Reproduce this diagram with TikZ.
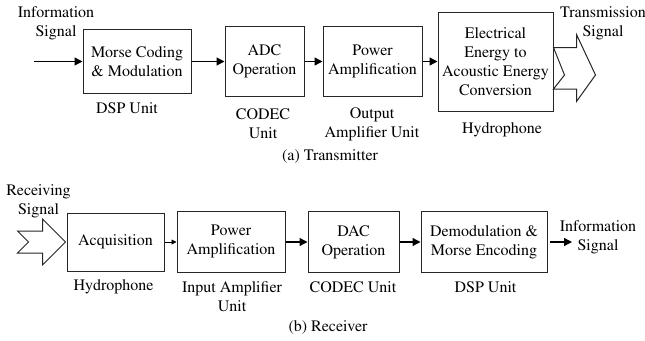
\documentclass[tikz,border=0pt]{standalone}
\usepackage[T1]{fontenc}
\usepackage{mathptmx}
\usetikzlibrary{arrows.meta,calc}
\begin{document}
\begin{tikzpicture}[x=1pt,y=-1pt,
  every node/.style={font=\rmfamily\fontsize{16}{19}\selectfont, inner sep=0pt, align=center},
  blk/.style={draw=black!85, line width=1pt, inner sep=0pt},
  conn/.style={line width=1.3pt, -{Triangle[length=8pt,width=8pt]}},
  thinconn/.style={line width=0.9pt, -{Triangle[length=5pt,width=5pt]}},
  hollow/.style={draw=black!85, line width=1pt, fill=white, line join=miter}]
\useasboundingbox (0,0) rectangle (645,340);

% ---------- Transmitter ----------
\node[blk, minimum width=108pt, minimum height=64pt] (t1) at (137,61.5) {Morse Coding\\\& Modulation};
\node[blk, minimum width=79pt, minimum height=70pt] (t2) at (264.5,61.5) {ADC\\Operation};
\node[blk, minimum width=99pt, minimum height=70pt] (t3) at (372.5,61.5) {Power\\Amplification};
\node[blk, minimum width=115pt, minimum height=99pt] (t4) at (495.5,61.5) {Electrical\\Energy to\\Acoustic Energy\\Conversion};

\node (tin) at (56,23) {Information\\Signal};
\coordinate (tstart) at (34,61.5);
\draw[conn] (tstart) -- (t1.west);
\draw[conn] (t1.east) -- (t2.west);
\draw[conn] (t2.east) -- (t3.west);
\draw[conn] (t3.east) -- (t4.west);

\node (tl1) at (127,108) {DSP Unit};
\node (tl2) at (263,124) {CODEC\\Unit};
\node (tl3) at (372,124.5) {Output\\Amplifier Unit};
\node (tl4) at (502,130) {Hydrophone};

% hollow transmit arrow
\draw[hollow] (t4.east) ++(0,-14) -- ++(23,0) -- ++(0,-13) -- ++(19,40.5) -- ++(-19,26.5)
  -- ++(0,-12.5) -- ++(-23,0) -- ++(11,-14) -- cycle;
\node (tout) at (603,23) {Transmission\\Signal};

\node (tcap) at (330,157) {(a) Transmitter};

% ---------- Receiver ----------
\node[blk, minimum width=97pt, minimum height=58pt] (r1) at (115.5,242) {Acquisition};
\node[blk, minimum width=108pt, minimum height=61pt] (r2) at (231,242) {Power\\Amplification};
\node[blk, minimum width=91pt, minimum height=61pt] (r3) at (353.5,242) {DAC\\Operation};
\node[blk, minimum width=126pt, minimum height=61pt] (r4) at (484,242) {Demodulation \&\\Morse Encoding};

\draw[thinconn] (r1.east) -- (r2.west);
\draw[conn] (r2.east) -- (r3.west);
\draw[conn] (r3.east) -- (r4.west);

\coordinate (ro1) at (550,242);
\coordinate (ro2) at (572,242);
\draw[conn] (ro1) -- (ro2);
\node (rout) at (598,237.5) {Information\\Signal};

% hollow receiving arrow
\draw[hollow] (r1.west) ++(-1,0) -- ++(-23,-23) -- ++(0,12) -- ++(-25,0) -- ++(11,11)
  -- ++(-11,11) -- ++(25,0) -- ++(0,12) -- cycle;
\node (rin) at (38.5,201) {Receiving\\Signal};

\node (rl1) at (113.5,287) {Hydrophone};
\node (rl2) at (232,296.5) {Input Amplifier\\Unit};
\node (rl3) at (353,287) {CODEC Unit};
\node (rl4) at (485.5,287) {DSP Unit};

\node (rcap) at (328,328) {(b) Receiver};
\end{tikzpicture}
\end{document}
